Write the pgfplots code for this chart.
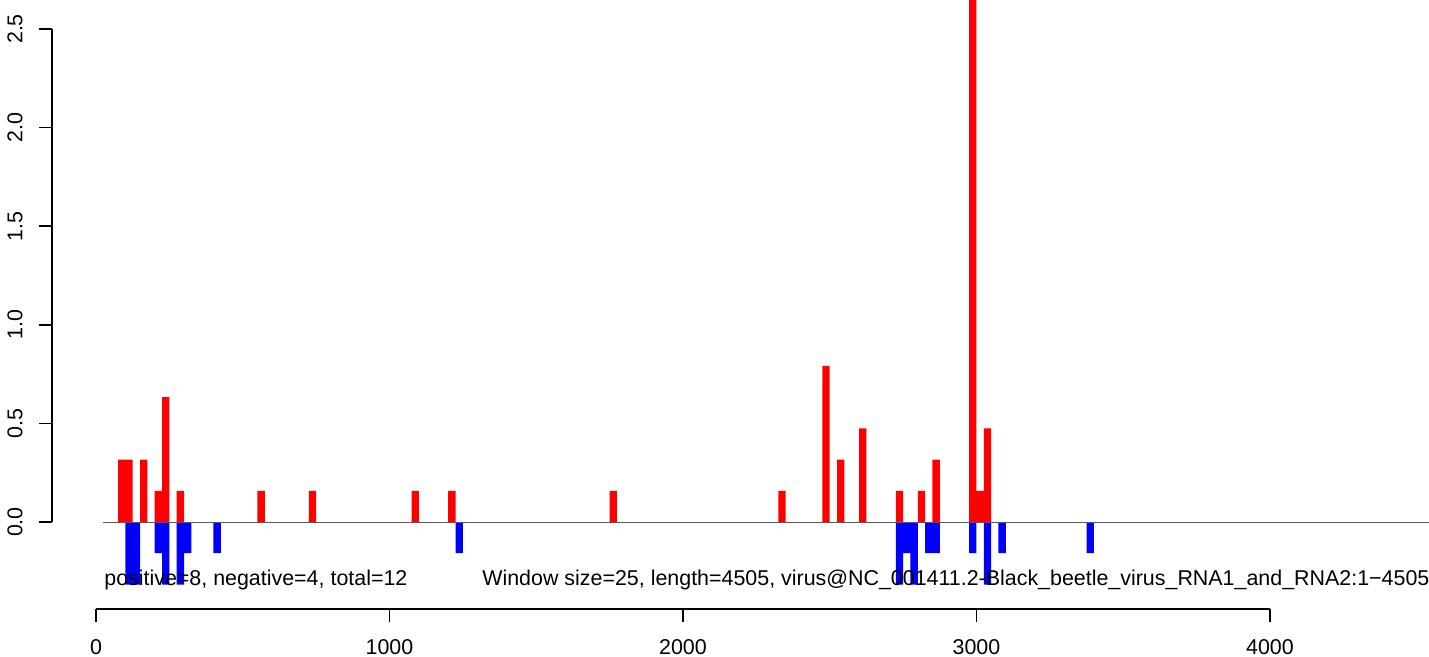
\documentclass[border=0pt]{standalone}
\usepackage{pgfplots}
\pgfplotsset{compat=1.18}
\usepackage{fontspec}
\setmainfont{Liberation Sans}
\definecolor{rred}{RGB}{255,0,0}
\definecolor{rblue}{RGB}{0,0,255}

% bars: x = centre of a 25-nt window, value = normalised count
\pgfplotstableread{
x y
87.5 0.317
112.5 0.317
162.5 0.317
212.5 0.158
237.5 0.633
287.5 0.158
562.5 0.158
737.5 0.158
1087.5 0.158
1212.5 0.158
1762.5 0.158
2337.5 0.158
2487.5 0.792
2537.5 0.317
2612.5 0.475
2737.5 0.158
2812.5 0.158
2862.5 0.317
2987.5 2.850
3012.5 0.158
3037.5 0.475
}\pos
\pgfplotstableread{
x y
112.5 -0.317
137.5 -0.317
212.5 -0.158
237.5 -0.317
287.5 -0.317
312.5 -0.158
412.5 -0.158
1237.5 -0.158
2737.5 -0.317
2762.5 -0.158
2787.5 -0.317
2837.5 -0.158
2862.5 -0.158
2987.5 -0.158
3037.5 -0.317
3087.5 -0.158
3387.5 -0.158
}\neg

\begin{document}
\begin{tikzpicture}
\begin{axis}[
  name=ax,
  scale only axis,
  width=688.5bp, height=304.5bp,
  xmin=-150, xmax=4542,
  ymin=-0.441, ymax=2.647,
  clip mode=individual,
  axis x line*=bottom, axis y line*=left,
  axis line style={draw=none},
  tick align=outside,
  major tick length=6.5bp,
  tick style={black, line width=0.75bp},
  xtick={0,1000,2000,3000,4000},
  xticklabels={0,1000,2000,3000,4000},
  ytick={0,0.5,1,1.5,2,2.5},
  yticklabels={0.0,0.5,1.0,1.5,2.0,2.5},
  ticklabel style={font=\fontsize{10.75}{12}\selectfont},
  xticklabel style={anchor=north, inner sep=0pt, yshift=-8.5bp},
  yticklabel style={rotate=90, anchor=south, inner sep=0pt, yshift=8bp},
  /pgf/number format/assume math mode=true,
]
\addplot[ybar, bar width=25, bar shift=0pt, fill=rred, draw=none] table {\pos};
\addplot[ybar, bar width=25, bar shift=0pt, fill=rblue, draw=none] table {\neg};
\addplot[black!65, line width=0.5bp] coordinates {(25,0) (4600,0)};
\draw[black, line width=0.75bp] (axis cs:0,-0.441) -- (axis cs:4000,-0.441);
\draw[black, line width=0.75bp] (axis cs:-150,0) -- (axis cs:-150,2.5);
\node[anchor=base west, inner sep=0pt, font=\fontsize{10.75}{12}\selectfont]
  at (axis cs:27,-0.322) {positive=8, negative=4, total=12};
\node[overlay, anchor=base west, inner sep=0pt, font=\fontsize{10.75}{12}\selectfont]
  at (axis cs:1315,-0.322) {Window size=25, length=4505, virus@NC\_001411.2-Black\_beetle\_virus\_RNA1\_and\_RNA2:1\textminus4505};
\end{axis}
\pgfresetboundingbox
\path ([xshift=-26bp,yshift=-24bp]ax.south west) rectangle (ax.north east);
\end{tikzpicture}
\end{document}
